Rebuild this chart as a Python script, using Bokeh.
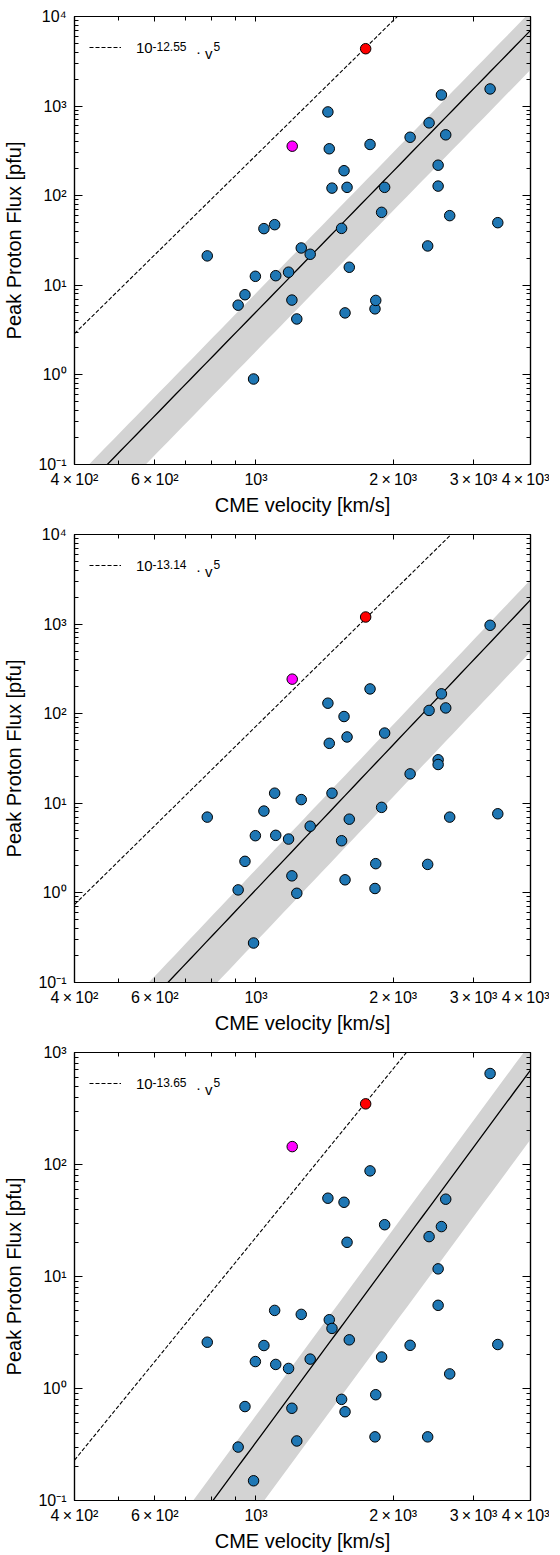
import numpy as np
from bokeh.plotting import figure
from bokeh.models import LogAxis, FixedTicker, Label, Legend, LegendItem, Range1d
from bokeh.layouts import column
from bokeh.embed import file_html
from bokeh.resources import INLINE

# ---------------- data ----------------
velocity = [782, 914, 946, 988, 997, 1041, 1099, 1105, 1179, 1199, 1229, 1257, 1315,
            1438, 1448, 1468, 1541, 1560, 1568, 1584, 1602, 1779, 1824, 1831, 1886, 1915,
            2178, 2380, 2397, 2509, 2509, 2551, 2607, 2660, 3262, 3391]

flux_panel1 = [21.3, 6.0, 7.85, 0.90, 12.6, 42.9, 47.5, 12.8, 14.0, 6.84, 4.21, 26.1, 22.2,
               861, 334, 121.5, 43.2, 190, 4.92, 124, 15.9, 373, 5.46, 6.78, 65.2, 124,
               449, 27.5, 650, 219, 128, 1333, 478, 59.9, 1554, 50]
flux_panel2 = [7.01, 1.08, 2.25, 0.276, 4.35, 8.19, 12.97, 4.39, 3.99, 1.55, 0.99, 11.0, 5.55,
               131, 46.7, 12.97, 3.82, 93, 1.40, 55, 6.65, 189, 1.12, 2.12, 9.01, 60.8,
               21.3, 2.08, 108.8, 30.6, 27.1, 166.6, 116, 7.01, 970, 7.64]
flux_panel3 = [2.59, 0.30, 0.69, 0.150, 1.74, 2.42, 4.98, 1.64, 1.51, 0.666, 0.34, 4.59, 1.83,
               50, 4.11, 3.44, 0.80, 46, 0.62, 20.2, 2.72, 87.7, 0.37, 0.88, 1.91, 29,
               2.43, 0.37, 22.7, 11.7, 5.53, 27.9, 49, 1.35, 649, 2.47]
flux_panels = [flux_panel1, flux_panel2, flux_panel3]

red_velocity = 1740
red_flux = [4370, 1200, 348]
magenta_velocity = 1201
magenta_flux = [357, 243, 144.5]

# power-law fit  log10 F = coeff + slope * log10 v, band in dex above / below
fit_slope = [5.22, 5.37, 5.52]
fit_log_coeff = [-14.958, -16.073, -17.040]
band_up_dex = [0.21, 0.225, 0.24]
band_down_dex = [0.44, 0.58, 0.62]

# upper envelope 10^c * v^5
envelope_log_coeff = [-12.55, -13.14, -13.65]
envelope_exponent = 5
envelope_coeff_text = ["-12.55", "-13.14", "-13.65"]

x_lim = (400, 4000)
y_lims = [(0.1, 1e4), (0.1, 1e4), (0.1, 1e3)]

x_ticks = [400, 600, 1000, 2000, 3000, 4000]
x_minor_ticks = [500, 700, 800, 900]
x_tick_labels = ["4\u2009\u00d7\u200910\u00b2", "6\u2009\u00d7\u200910\u00b2", "10\u00b3",
                 "2\u2009\u00d7\u200910\u00b3", "3\u2009\u00d7\u200910\u00b3", "4\u2009\u00d7\u200910\u00b3"]
y_decade_exponents = [-1, 0, 1, 2, 3, 4]
y_tick_labels = ["10\u207b\u00b9", "10\u2070", "10\u00b9", "10\u00b2", "10\u00b3", "10\u2074"]

x_title = "CME velocity [km/s]"
y_title = "Peak Proton Flux [pfu]"

# ---------------- styling ----------------
FONT = "Liberation Sans"
BLUE = "#1f77b4"
BAND = "#d3d3d3"
FRAME_W, FRAME_H = 456, 448


def style_axis(ax, is_x, show_labels):
    ax.axis_line_color = "black"
    ax.axis_line_width = 1.2
    ax.major_tick_line_color = "black"
    ax.minor_tick_line_color = "black"
    ax.major_tick_out = 0
    ax.minor_tick_out = 0
    if is_x:
        ax.major_tick_in = 5
        ax.minor_tick_in = 4
    else:
        ax.major_tick_in = 8
        ax.minor_tick_in = 4
    ax.major_label_text_font = FONT
    ax.major_label_text_font_size = "16px"
    ax.axis_label_text_font = FONT
    ax.axis_label_text_font_style = "normal"
    ax.axis_label_text_font_size = "20px"
    ax.axis_label_text_color = "black"
    if show_labels:
        ax.major_label_text_color = "black"
    else:
        ax.major_label_text_color = None
        ax.major_label_standoff = 0


def make_panel(i, border_top, border_bottom):
    y_lo, y_hi = y_lims[i]
    p = figure(x_axis_type="log", y_axis_type="log",
               x_range=Range1d(*x_lim), y_range=Range1d(y_lo, y_hi),
               frame_width=FRAME_W, frame_height=FRAME_H,
               min_border_left=69, min_border_right=19,
               min_border_top=border_top, min_border_bottom=border_bottom,
               output_backend="svg", toolbar_location=None)
    p.grid.visible = False
    p.outline_line_color = "black"
    p.outline_line_width = 1.2
    p.background_fill_color = "white"
    p.border_fill_color = "white"

    exps = [e for e in y_decade_exponents if 10.0 ** e <= y_hi * 1.0001]
    y_major = [10.0 ** e for e in exps]
    y_minor = [m * 10.0 ** e for e in exps[:-1] for m in range(2, 10)]
    y_overrides = {10.0 ** e: y_tick_labels[y_decade_exponents.index(e)] for e in exps}
    x_overrides = {t: lab for t, lab in zip(x_ticks, x_tick_labels)}

    xa = p.xaxis[0]
    xa.ticker = FixedTicker(ticks=x_ticks, minor_ticks=x_minor_ticks)
    xa.major_label_overrides = x_overrides
    xa.axis_label = x_title
    xa.major_label_standoff = 6
    xa.axis_label_standoff = 3
    style_axis(xa, True, True)

    ya = p.yaxis[0]
    ya.ticker = FixedTicker(ticks=y_major, minor_ticks=y_minor)
    ya.major_label_overrides = y_overrides
    ya.axis_label = y_title
    ya.major_label_standoff = 8
    ya.axis_label_standoff = 10
    style_axis(ya, False, True)

    top = LogAxis(ticker=FixedTicker(ticks=x_ticks, minor_ticks=x_minor_ticks))
    style_axis(top, True, False)
    p.add_layout(top, "above")
    right = LogAxis(ticker=FixedTicker(ticks=y_major, minor_ticks=y_minor))
    style_axis(right, False, False)
    p.add_layout(right, "right")

    # fit line and band
    vgrid = np.logspace(np.log10(x_lim[0]), np.log10(x_lim[1]), 60)
    fit = 10.0 ** (fit_log_coeff[i] + fit_slope[i] * np.log10(vgrid))
    p.varea(x=vgrid, y1=fit / 10.0 ** band_down_dex[i], y2=fit * 10.0 ** band_up_dex[i],
            fill_color=BAND, fill_alpha=1.0)
    p.line(vgrid, fit, line_color="black", line_width=1.3)

    env = 10.0 ** (envelope_log_coeff[i] + envelope_exponent * np.log10(vgrid))
    env_r = p.line(vgrid, env, line_color="black", line_width=1.1, line_dash="4 2")

    p.scatter(velocity, flux_panels[i], size=10.5, fill_color=BLUE,
              line_color="black", line_width=1.0)
    p.scatter([magenta_velocity], [magenta_flux[i]], size=10.5, fill_color="#ff00ff",
              line_color="black", line_width=1.0)
    p.scatter([red_velocity], [red_flux[i]], size=10.5, fill_color="#ff0000",
              line_color="black", line_width=1.0)

    legend = Legend(items=[LegendItem(label="10", renderers=[env_r])],
                    location="top_left", margin=15, padding=0, spacing=0,
                    glyph_width=32, glyph_height=32, label_height=32,
                    label_standoff=15, label_text_font=FONT, label_text_font_size="15px",
                    label_text_color="black",
                    background_fill_alpha=0, border_line_alpha=0)
    p.add_layout(legend)

    base_y = FRAME_H - 36.6
    sup_y = FRAME_H - 30.0
    pieces = [(envelope_coeff_text[i], 78.0, sup_y, "12px"),
              ("\u00b7", 121.5, base_y + 1.5, "15px"),
              ("v", 130.5, base_y, "15px"),
              (str(envelope_exponent), 139.0, sup_y, "12px")]
    for txt, lx, ly, fs in pieces:
        p.add_layout(Label(x=lx, y=ly, x_units="screen", y_units="screen", text=txt,
                           text_font=FONT, text_font_size=fs, text_color="black",
                           text_baseline="alphabetic", text_align="left"))
    return p


p1 = make_panel(0, 16, 61)
p2 = make_panel(1, 9, 61)
p3 = make_panel(2, 9, 50)

layout = column(p1, p2, p3, spacing=0)
open("out.html", "w").write(file_html(layout, INLINE))
